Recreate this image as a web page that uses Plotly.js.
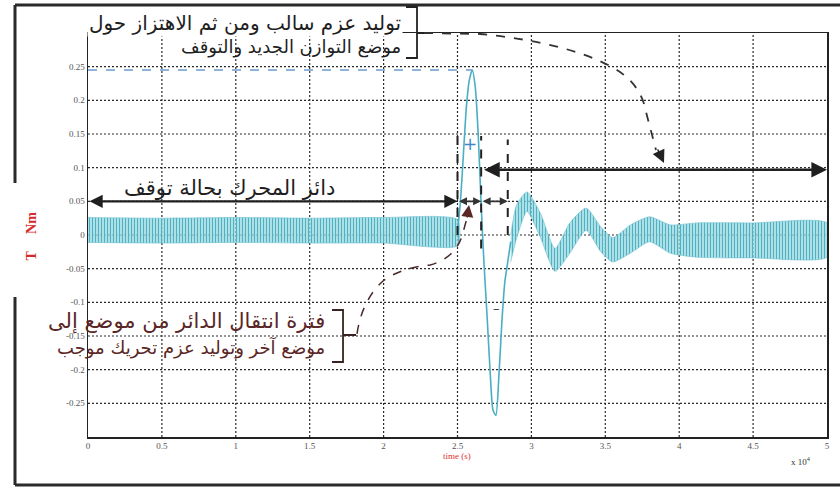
<!DOCTYPE html>
<html>
<head>
<meta charset="utf-8">
<script src="https://cdn.plot.ly/plotly-3.0.1.min.js"></script>
<style>html,body{margin:0;padding:0;background:#fff}#chart{width:840px;height:491px}</style>
</head>
<body>
<div id="chart"></div>
<script>
// ---- data ----
const preT     = [0, 0.5, 1, 1.5, 2, 2.5];
const preUpper = [0.026, 0.025, 0.026, 0.025, 0.026, 0.023];
const preLower = [-0.011, -0.012, -0.011, -0.012, -0.012, -0.016];

const transT = [2.50, 2.52, 2.54, 2.56, 2.58, 2.60, 2.62, 2.64, 2.66, 2.68, 2.70, 2.72, 2.74, 2.76, 2.78, 2.80, 2.82, 2.84, 2.86];
const transV = [0.005, 0.05, 0.12, 0.19, 0.23, 0.245, 0.22, 0.15, 0.045, -0.045, -0.12, -0.2, -0.26, -0.268, -0.21, -0.13, -0.07, -0.04, -0.01];

const postT     = [2.86, 2.90, 2.97, 3.06, 3.16, 3.26, 3.37, 3.47, 3.55, 3.67, 3.80, 3.94, 4.12, 4.50, 5.00];
const postUpper = [0.000, 0.045, 0.064, 0.033, -0.020, 0.018, 0.040, 0.012, -0.004, 0.015, 0.027, 0.015, 0.018, 0.018, 0.018];
const postLower = [-0.040, -0.005, 0.035, -0.003, -0.054, -0.027, 0.007, -0.025, -0.040, -0.027, -0.010, -0.027, -0.033, -0.034, -0.033];

const xTickVals = [0, 0.5, 1, 1.5, 2, 2.5, 3, 3.5, 4, 4.5, 5];
const xTickText = ['0', '0.5', '1', '1.5', '2', '2.5', '3', '3.5', '4', '4.5', '5'];
const yTickVals = [-0.25, -0.2, -0.15, -0.1, -0.05, 0, 0.05, 0.1, 0.15, 0.2, 0.25];
const yTickText = ['-0.25', '-0.2', '-0.15', '-0.1', '-0.05', '0', '0.05', '0.1', '0.15', '0.2', '0.25'];

const topLine1 = 'توليد عزم سالب ومن ثم الاهتزاز حول';
const topLine2 = 'موضع التوازن الجديد والتوقف';
const leftLabel = 'دائر المحرك بحالة توقف';
const lowLine1 = 'فترة انتقال الدائر من موضع إلى';
const lowLine2 = 'موضع آخر وتوليد عزم تحريك موجب';

// ---- helpers: page pixel -> paper ----
const L = 88, R = 827, T = 33, B = 437;
const px = x => (x - L) / (R - L);
const py = y => (B - y) / (B - T);
function pathPx(cmds) {
  return cmds.map(c => typeof c === 'string' ? c : (px(c[0]).toFixed(4) + ',' + py(c[1]).toFixed(4))).join(' ');
}

function band(t, up, lo) {
  return {
    x: t.concat(t.slice().reverse()),
    y: up.concat(lo.slice().reverse()),
    type: 'scatter', mode: 'lines', fill: 'toself',
    line: {color: '#6cc0ce', width: 0.6, shape: 'spline', smoothing: 0.6},
    fillcolor: 'rgba(130,205,215,0.7)',
    fillpattern: {shape: '|', size: 3, solidity: 0.4, fgcolor: '#4fb1c2', bgcolor: 'rgba(160,220,228,0.75)'},
    hoverinfo: 'skip'
  };
}

const traces = [
  band(preT, preUpper, preLower),
  band(postT, postUpper, postLower),
  {x: transT, y: transV, type: 'scatter', mode: 'lines',
   line: {color: '#4aaec4', width: 1.6, shape: 'spline', smoothing: 0.6}}
];

const peakIdx = transV.indexOf(Math.max(...transV));
const frameC = '#2a2a2a';
const gridLine = {color: '#2a2a2a', width: 1.2, dash: '2px,2px'};

const shapes = [];
// dotted grid
xTickVals.filter(v => v > 0 && v < 5).forEach(v => shapes.push(
  {type: 'line', layer: 'below', xref: 'x', yref: 'paper', x0: v, x1: v, y0: 0, y1: 1, line: gridLine}));
yTickVals.forEach(v => shapes.push(
  {type: 'line', layer: 'below', xref: 'paper', yref: 'y', x0: 0, x1: 1, y0: v, y1: v, line: gridLine}));

shapes.push(
  // page frame (scanned border)
  {type: 'line', xref: 'paper', yref: 'paper', x0: px(15), y0: py(5), x1: px(842), y1: py(5), line: {color: frameC, width: 3}},
  {type: 'line', xref: 'paper', yref: 'paper', x0: px(15), y0: py(5), x1: px(15), y1: py(183), line: {color: frameC, width: 3}},
  {type: 'line', xref: 'paper', yref: 'paper', x0: px(15), y0: py(297), x1: px(15), y1: py(485), line: {color: frameC, width: 3}},
  {type: 'line', xref: 'paper', yref: 'paper', x0: px(15), y0: py(485), x1: px(842), y1: py(485), line: {color: frameC, width: 3}},
  // top bracket
  {type: 'path', xref: 'paper', yref: 'paper',
   path: pathPx(['M', [406, 7], 'L', [417, 7], 'L', [417, 58], 'L', [406, 58], 'M', [417, 33], 'L', [424, 33]]),
   line: {color: '#222', width: 1.8}},
  // lower bracket
  {type: 'path', xref: 'paper', yref: 'paper',
   path: pathPx(['M', [332, 310], 'L', [343, 310], 'L', [343, 362], 'L', [332, 362], 'M', [343, 335], 'L', [356, 335]]),
   line: {color: '#3a2222', width: 1.8}},
  // top dashed curved connector
  {type: 'path', xref: 'paper', yref: 'paper',
   path: pathPx(['M', [424, 33], 'L', [480, 34], 'Q', [565, 42], [612, 67], 'Q', [641, 83], [646, 112], 'L', [656, 150]]),
   line: {color: '#333', width: 1.8, dash: 'dash'}},
  // lower dashed curved connector
  {type: 'path', xref: 'paper', yref: 'paper',
   path: pathPx(['M', [357, 334], 'Q', [362, 300], [383, 281], 'Q', [400, 268], [430, 265], 'Q', [455, 258], [462, 236], 'L', [467, 218]]),
   line: {color: '#4a2a2a', width: 1.5, dash: 'dash'}},
  // blue dashed peak level
  {type: 'line', xref: 'x', yref: 'y', x0: 0, x1: transT[peakIdx], y0: transV[peakIdx], y1: transV[peakIdx],
   line: {color: '#6a9ad2', width: 1.5, dash: 'dash'}},
  // vertical dashed separators
  {type: 'line', xref: 'x', yref: 'y', x0: 2.5, x1: 2.5, y0: 0.0, y1: 0.15, line: {color: '#222', width: 2, dash: 'dash'}},
  {type: 'line', xref: 'x', yref: 'y', x0: 2.66, x1: 2.66, y0: -0.02, y1: 0.147, line: {color: '#222', width: 2, dash: 'dash'}},
  {type: 'line', xref: 'x', yref: 'y', x0: 2.84, x1: 2.84, y0: 0.0, y1: 0.142, line: {color: '#222', width: 2, dash: 'dash'}}
);

const arabicFont = 'DejaVu Sans';
const annotations = [
  {xref: 'paper', yref: 'paper', x: px(403), y: py(23), xanchor: 'right', yanchor: 'middle', showarrow: false,
   text: topLine1, font: {family: arabicFont, size: 20, color: '#1e1e1e'}, bgcolor: '#ffffff'},
  {xref: 'paper', yref: 'paper', x: px(403), y: py(47), xanchor: 'right', yanchor: 'middle', showarrow: false,
   text: topLine2, font: {family: arabicFont, size: 18, color: '#1e1e1e'}},
  {xref: 'paper', yref: 'paper', x: px(229), y: py(188), xanchor: 'center', yanchor: 'middle', showarrow: false,
   text: leftLabel, font: {family: arabicFont, size: 21, color: '#1e1e1e'}},
  {xref: 'paper', yref: 'paper', x: px(327), y: py(321), xanchor: 'right', yanchor: 'middle', showarrow: false,
   text: lowLine1, font: {family: arabicFont, size: 21, color: '#5a2626'}},
  {xref: 'paper', yref: 'paper', x: px(327), y: py(347), xanchor: 'right', yanchor: 'middle', showarrow: false,
   text: lowLine2, font: {family: arabicFont, size: 18, color: '#5a2626'}},
  {xref: 'paper', yref: 'paper', x: px(470), y: py(132), showarrow: false, text: '+',
   font: {family: 'DejaVu Sans', size: 17, color: '#3f86c4'}},
  {xref: 'paper', yref: 'paper', x: px(496), y: py(318), showarrow: false, text: '–',
   font: {family: 'DejaVu Sans', size: 13, color: '#334'}},
  {xref: 'paper', yref: 'paper', x: px(21), y: py(236), showarrow: false, text: 'T     Nm', textangle: -90,
   font: {family: 'Liberation Serif', size: 14, color: '#d42a2a', weight: 'bold'}},
  {xref: 'paper', yref: 'paper', x: px(457), y: py(463), showarrow: false, text: 'time (s)',
   font: {family: 'Liberation Serif', size: 9, color: '#e03030'}},
  {xref: 'paper', yref: 'paper', x: px(813), y: py(469), showarrow: false, text: 'x 10<sup>4</sup>',
   font: {family: 'Liberation Serif', size: 9, color: '#333'}},
  // arrows
  {x: 2.5, y: 0.05, ax: 0, ay: 0.05, xref: 'x', yref: 'y', axref: 'x', ayref: 'y', text: '', showarrow: true,
   arrowside: 'end+start', arrowhead: 2, arrowsize: 1.2, arrowwidth: 2.2, arrowcolor: '#1f1f1f'},
  {x: 5, y: 0.097, ax: 2.67, ay: 0.097, xref: 'x', yref: 'y', axref: 'x', ayref: 'y', text: '', showarrow: true,
   arrowside: 'end+start', arrowhead: 2, arrowsize: 1.2, arrowwidth: 2.6, arrowcolor: '#1f1f1f'},
  {x: 2.66, y: 0.05, ax: 2.5, ay: 0.05, xref: 'x', yref: 'y', axref: 'x', ayref: 'y', text: '', showarrow: true,
   arrowside: 'end+start', arrowhead: 2, arrowsize: 1, arrowwidth: 1.6, arrowcolor: '#333'},
  {x: 2.84, y: 0.05, ax: 2.66, ay: 0.05, xref: 'x', yref: 'y', axref: 'x', ayref: 'y', text: '', showarrow: true,
   arrowside: 'end+start', arrowhead: 2, arrowsize: 1, arrowwidth: 1.6, arrowcolor: '#333'},
  // heads of dashed connectors
  {xref: 'paper', yref: 'paper', x: px(664), y: py(163), ax: -7, ay: -15, text: '', showarrow: true,
   arrowhead: 2, arrowsize: 1.6, arrowwidth: 1.6, arrowcolor: '#222'},
  {xref: 'paper', yref: 'paper', x: px(469), y: py(205), ax: -2, ay: 14, text: '', showarrow: true,
   arrowhead: 2, arrowsize: 1.6, arrowwidth: 1.5, arrowcolor: '#5a2626'}
];

const tickFont = {family: 'Liberation Serif', size: 9, color: '#555'};
const layout = {
  width: 840, height: 491,
  margin: {l: L, r: 840 - R, t: T, b: 491 - B, pad: 0},
  paper_bgcolor: '#ffffff', plot_bgcolor: '#ffffff',
  showlegend: false,
  xaxis: {range: [0, 5], tickvals: xTickVals, ticktext: xTickText, tickfont: tickFont,
          showgrid: false, zeroline: false,
          showline: true, mirror: true, linecolor: '#222', linewidth: 1.5, ticks: '', fixedrange: true},
  yaxis: {range: [-0.3, 0.3], tickvals: yTickVals, ticktext: yTickText, tickfont: tickFont,
          showgrid: false, zeroline: false,
          showline: true, mirror: true, linecolor: '#222', linewidth: 1.5, ticks: '', fixedrange: true},
  shapes: shapes,
  annotations: annotations
};

Plotly.newPlot('chart', traces, layout, {displayModeBar: false, staticPlot: true});
</script>
</body>
</html>
